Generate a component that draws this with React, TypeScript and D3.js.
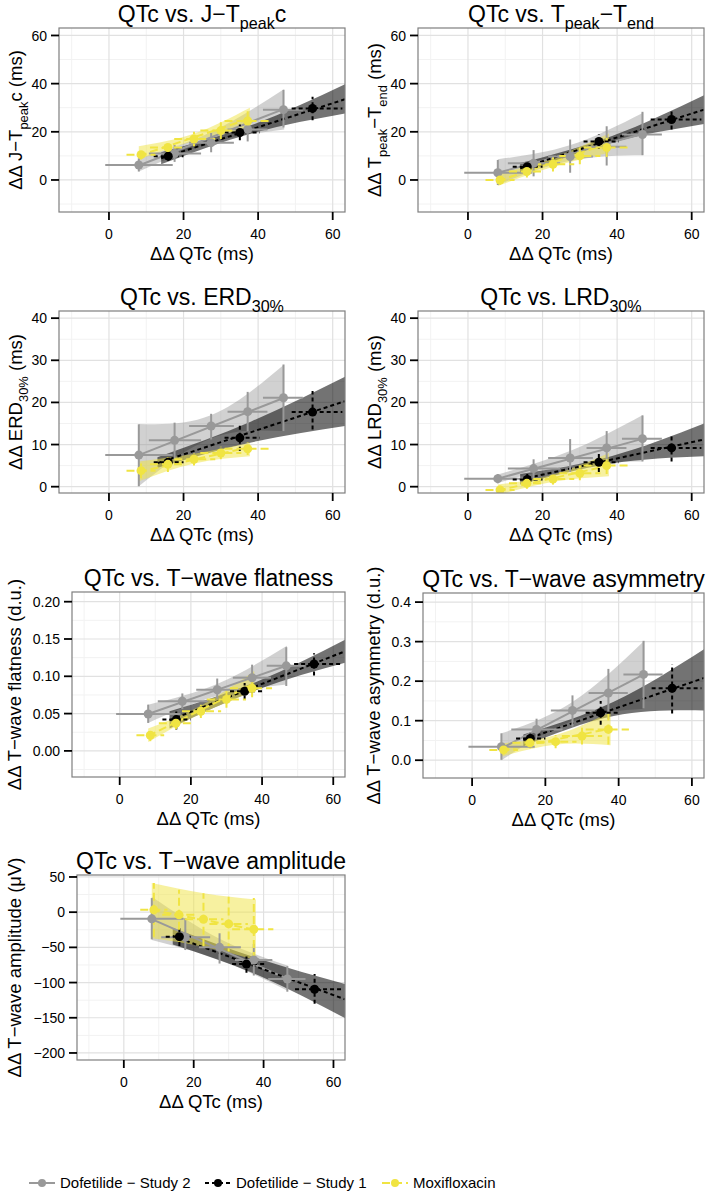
import React from 'react';
import * as d3 from 'd3';

const W = 710;
const H = 1198;
const FONT = '"Liberation Sans", Arial, Helvetica, sans-serif';

const seriesNames = ['Dofetilide − Study 2', 'Dofetilide − Study 1', 'Moxifloxacin'];

// ΔΔQTc per series: [mean, lower, upper]
const qtcS2 = [[8.0, -1.0, 17.1], [17.6, 10.7, 24.7], [27.4, 21.5, 33.5], [37.2, 31.8, 42.5], [46.8, 41.3, 52.0]];
const qtcS1 = [[15.9, 12.0, 20.0], [35.1, 31.0, 40.5], [54.6, 49.0, 62.6]];
const qtcMx = [[8.6, 4.7, 12.5], [15.8, 11.0, 20.5], [22.8, 17.5, 28.5], [30.0, 24.5, 35.5], [37.2, 31.0, 42.8]];

const xTicks = [0, 20, 40, 60];
const xMinor = [-10, 10, 30, 50];
const xDomain = [-13.4, 63.3];

// per panel: y values [mean, lower, upper]; fits [x0, x1, fit0, fit1, lo0, loMid, lo1, hi0, hiMid, hi1]
const jtpS2 = [[6.2, 3.5, 9.0], [11.0, 7.5, 14.5], [15.5, 11.5, 19.5], [21.0, 16.0, 26.0], [29.2, 21.8, 37.4]];
const jtpS1 = [[9.9, 8.0, 12.0], [19.7, 16.5, 23.0], [29.7, 24.8, 34.6]];
const jtpMx = [[10.5, 8.5, 12.5], [13.5, 11.0, 16.0], [17.0, 14.0, 20.0], [20.5, 17.0, 24.0], [24.5, 20.5, 28.5]];
const jtpFit = [
  [8, 47, 6.0, 29.5, 3.5, 15.5, 21.0, 9.0, 20.0, 37.8],
  [14, 63.3, 9.0, 33.5, 6.5, 19.5, 27.6, 11.5, 23.0, 39.7],
  [8, 37.8, 10.0, 25.5, 8.5, 16.3, 21.4, 14.0, 19.3, 30.0],
];

const tptS2 = [[3.0, -2.1, 8.3], [6.9, 1.5, 12.4], [9.7, 3.0, 16.8], [13.8, 6.0, 22.3], [18.9, 10.3, 28.3]];
const tptS1 = [[5.5, 3.5, 7.5], [16.0, 13.0, 19.0], [25.1, 21.0, 29.7]];
const tptMx = [[0.0, -2.0, 2.0], [3.5, 1.0, 6.0], [6.5, 3.5, 9.5], [10.0, 6.5, 13.5], [13.5, 9.5, 17.5]];
const tptFit = [
  [8, 47, 3.0, 19.2, -2.0, 8.0, 10.3, 8.6, 14.5, 27.9],
  [14, 63.3, 4.8, 29.2, 2.5, 15.5, 23.2, 7.0, 18.3, 35.2],
  [8, 37.8, -0.5, 15.3, -2.5, 5.5, 11.3, 2.5, 9.3, 19.3],
];

const erdS2 = [[7.5, 0.1, 14.8], [11.0, 6.5, 15.2], [14.4, 11.2, 17.3], [17.8, 13.2, 22.5], [21.1, 13.2, 29.0]];
const erdS1 = [[5.8, 4.8, 7.0], [11.6, 8.5, 14.8], [17.7, 13.6, 22.7]];
const erdMx = [[3.8, 2.0, 5.5], [5.3, 3.5, 7.0], [6.5, 5.0, 8.0], [8.0, 6.5, 9.5], [9.0, 7.5, 10.5]];
const erdFit = [
  [8, 47, 7.5, 21.1, 0.1, 11.5, 13.2, 14.9, 17.0, 29.0],
  [13, 63.3, 5.6, 20.3, 4.5, 10.5, 14.4, 7.0, 15.5, 26.1],
  [8, 37.8, 3.5, 9.4, 1.3, 5.5, 7.2, 6.0, 7.8, 10.4],
];

const lrdS2 = [[1.9, 0.8, 3.0], [4.3, 2.0, 6.5], [6.8, 3.5, 11.3], [9.2, 5.0, 13.2], [11.4, 6.0, 16.9]];
const lrdS1 = [[1.7, 0.5, 3.0], [5.8, 3.5, 8.0], [9.2, 6.0, 12.6]];
const lrdMx = [[-0.8, -1.5, 0.2], [0.8, -0.5, 2.0], [1.8, 0.5, 3.2], [3.2, 1.5, 5.0], [5.0, 3.0, 6.5]];
const lrdFit = [
  [8, 47, 1.9, 11.4, 0.9, 5.0, 6.0, 2.9, 8.5, 17.1],
  [14, 63.3, 1.7, 11.2, 0.5, 5.5, 7.2, 3.0, 7.3, 15.0],
  [8, 37.8, -0.9, 5.0, -2.0, 1.2, 2.5, 0.5, 2.9, 8.0],
];

const flatS2 = [[0.0495, 0.0375, 0.062], [0.0665, 0.056, 0.077], [0.082, 0.07, 0.097], [0.098, 0.082, 0.1156], [0.114, 0.087, 0.139]];
const flatS1 = [[0.042, 0.0286, 0.053], [0.08, 0.069, 0.091], [0.1165, 0.101, 0.131]];
const flatMx = [[0.021, 0.013, 0.029], [0.037, 0.029, 0.046], [0.053, 0.044, 0.062], [0.069, 0.058, 0.08], [0.084, 0.072, 0.097]];
const flatFit = [
  [8, 47, 0.0495, 0.1145, 0.0375, 0.074, 0.089, 0.062, 0.09, 0.141],
  [14, 63.3, 0.041, 0.1335, 0.03, 0.082, 0.118, 0.053, 0.093, 0.149],
  [8, 37.8, 0.02, 0.09, 0.012, 0.05, 0.08, 0.03, 0.061, 0.107],
];

const asymS2 = [[0.034, 0.001, 0.068], [0.078, 0.052, 0.105], [0.126, 0.085, 0.164], [0.17, 0.105, 0.231], [0.217, 0.131, 0.302]];
const asymS1 = [[0.055, 0.04, 0.07], [0.12, 0.09, 0.15], [0.182, 0.118, 0.243]];
const asymMx = [[0.026, 0.015, 0.037], [0.044, 0.03, 0.058], [0.047, 0.03, 0.064], [0.061, 0.04, 0.082], [0.078, 0.04, 0.118]];
const asymFit = [
  [8, 47, 0.03, 0.218, 0.0, 0.1, 0.13, 0.068, 0.148, 0.302],
  [14, 63.3, 0.051, 0.208, 0.035, 0.112, 0.126, 0.065, 0.148, 0.281],
  [8, 37.8, 0.025, 0.08, 0.009, 0.04, 0.038, 0.043, 0.064, 0.122],
];

const ampS2 = [[-9.5, -38.6, 20], [-35.7, -53.8, -8.6], [-50, -73, -30], [-68, -90, -45], [-95, -113, -76.7]];
const ampS1 = [[-34.8, -48, -23], [-73.8, -86, -63], [-109.5, -130, -88]];
const ampMx = [[3.3, -35, 41.4], [-3.8, -42, 32], [-10, -49, 27], [-16.7, -56, 22], [-24.3, -68, 20]];
const ampFit = [
  [8, 47, -10, -95, -39.5, -68, -112, 22, -38, -76],
  [14, 63.3, -33.8, -123.8, -46, -90, -150.5, -22, -66, -102],
  [8, 37.8, 3, -25, -37, -49, -68, 41.4, 27, 18],
];

type Seg = [string, boolean];

const titles: Seg[][] = [
  [['QTc vs. J−T', false], ['peak', true], ['c', false]],
  [['QTc vs. T', false], ['peak', true], ['−T', false], ['end', true]],
  [['QTc vs. ERD', false], ['30%', true]],
  [['QTc vs. LRD', false], ['30%', true]],
  [['QTc vs. T−wave flatness', false]],
  [['QTc vs. T−wave asymmetry', false]],
  [['QTc vs. T−wave amplitude', false]],
];

const yLabels: Seg[][] = [
  [['ΔΔ J−T', false], ['peak', true], ['c (ms)', false]],
  [['ΔΔ T', false], ['peak', true], ['−T', false], ['end', true], [' (ms)', false]],
  [['ΔΔ ERD', false], ['30%', true], [' (ms)', false]],
  [['ΔΔ LRD', false], ['30%', true], [' (ms)', false]],
  [['ΔΔ T−wave flatness (d.u.)', false]],
  [['ΔΔ T−wave asymmetry (d.u.)', false]],
  [['ΔΔ T−wave amplitude (μV)', false]],
];
const xLabel = 'ΔΔ QTc (ms)';

const yDomains = [[-13.3, 63.1], [-13.3, 63.1], [-1.5, 41.7], [-1.5, 41.7], [-0.035, 0.213], [-0.045, 0.423], [-210, 52.8]];
const yTicks = [
  [0, 20, 40, 60], [0, 20, 40, 60], [0, 10, 20, 30, 40], [0, 10, 20, 30, 40],
  [0, 0.05, 0.1, 0.15, 0.2], [0, 0.1, 0.2, 0.3, 0.4], [-200, -150, -100, -50, 0, 50],
];
const yMinor = [
  [-10, 10, 30, 50], [-10, 10, 30, 50], [5, 15, 25, 35], [5, 15, 25, 35],
  [-0.025, 0.025, 0.075, 0.125, 0.175], [0.05, 0.15, 0.25, 0.35], [-175, -125, -75, -25, 25],
];
const yFormats = ['d', 'd', 'd', 'd', '.2f', '.1f', 'd'];

// layout (pixels)
const panelRects = [
  [59, 28, 345, 212],
  [418, 28, 704, 212],
  [59, 311, 345, 493],
  [418, 311, 704, 493],
  [72, 592, 345, 777],
  [423, 593, 704, 778],
  [77, 875, 345, 1060],
];
const yTitleX = [22, 381, 22, 381, 21, 380, 21];

const panelData = [
  [jtpS2, jtpS1, jtpMx, jtpFit],
  [tptS2, tptS1, tptMx, tptFit],
  [erdS2, erdS1, erdMx, erdFit],
  [lrdS2, lrdS1, lrdMx, lrdFit],
  [flatS2, flatS1, flatMx, flatFit],
  [asymS2, asymS1, asymMx, asymFit],
  [ampS2, ampS1, ampMx, ampFit],
];

const seriesX = [qtcS2, qtcS1, qtcMx];
const seriesStyle = [
  { color: '#999999', dash: undefined as string | undefined, band: 'rgba(153,153,153,0.45)' },
  { color: '#000000', dash: '4,3', band: 'rgba(0,0,0,0.55)' },
  { color: '#F0E442', dash: '8,4', band: 'rgba(240,228,66,0.5)' },
];

const TITLE_FS = 23;
const AXIS_FS = 18.5;
const TICK_FS = 14;
const LEGEND_FS = 15;

function segs(list: Seg[], fs: number) {
  let sub = false;
  return list.map(([t, s], i) => {
    let dy = 0;
    if (s && !sub) dy = fs * 0.3;
    else if (!s && sub) dy = -fs * 0.3;
    sub = s;
    return (
      <tspan key={i} dy={dy} fontSize={s ? fs * 0.7 : fs} style={{ whiteSpace: 'pre' }}>
        {t}
      </tspan>
    );
  });
}

function Panel({ idx }: { idx: number }) {
  const [x0, y0, x1, y1] = panelRects[idx];
  const x = d3.scaleLinear().domain(xDomain).range([x0, x1]);
  const y = d3.scaleLinear().domain(yDomains[idx]).range([y1, y0]);
  const fmt = d3.format(yFormats[idx]);
  const data = panelData[idx];
  const fits = data[3] as number[][];
  const clipId = `clip${idx}`;

  const area = d3
    .area<[number, number, number]>()
    .x((d) => x(d[0]))
    .y0((d) => y(d[1]))
    .y1((d) => y(d[2]))
    .curve(d3.curveNatural);

  const cx = (x0 + x1) / 2;
  const cy = (y0 + y1) / 2;

  return (
    <g>
      <defs>
        <clipPath id={clipId}>
          <rect x={x0} y={y0} width={x1 - x0} height={y1 - y0} />
        </clipPath>
      </defs>
      <rect x={x0} y={y0} width={x1 - x0} height={y1 - y0} fill="#ffffff" />
      <g clipPath={`url(#${clipId})`}>
        {xMinor.map((v) => (
          <line key={'xm' + v} x1={x(v)} x2={x(v)} y1={y0} y2={y1} stroke="#f2f2f2" strokeWidth={1} />
        ))}
        {yMinor[idx].map((v) => (
          <line key={'ym' + v} x1={x0} x2={x1} y1={y(v)} y2={y(v)} stroke="#f2f2f2" strokeWidth={1} />
        ))}
        {xTicks.map((v) => (
          <line key={'xM' + v} x1={x(v)} x2={x(v)} y1={y0} y2={y1} stroke="#e1e1e1" strokeWidth={1.2} />
        ))}
        {yTicks[idx].map((v) => (
          <line key={'yM' + v} x1={x0} x2={x1} y1={y(v)} y2={y(v)} stroke="#e1e1e1" strokeWidth={1.2} />
        ))}
        {fits.map((f, s) => {
          const xm = (f[0] + f[1]) / 2;
          const pts: [number, number, number][] = [
            [f[0], f[4], f[7]],
            [xm, f[5], f[8]],
            [f[1], f[6], f[9]],
          ];
          return <path key={'band' + s} d={area(pts) || ''} fill={seriesStyle[s].band} stroke="none" />;
        })}
        {fits.map((f, s) => (
          <line
            key={'fit' + s}
            x1={x(f[0])}
            x2={x(f[1])}
            y1={y(f[2])}
            y2={y(f[3])}
            stroke={seriesStyle[s].color}
            strokeWidth={2}
            strokeDasharray={seriesStyle[s].dash}
          />
        ))}
        {[0, 1, 2].map((s) => {
          const ys = data[s] as number[][];
          return ys.map((v, i) => {
            const q = seriesX[s][i];
            return (
              <line
                key={`ve${s}-${i}`}
                x1={x(q[0])}
                x2={x(q[0])}
                y1={y(v[1])}
                y2={y(v[2])}
                stroke={seriesStyle[s].color}
                strokeWidth={2}
                strokeDasharray={seriesStyle[s].dash}
              />
            );
          });
        })}
        {[0, 1, 2].map((s) => {
          const ys = data[s] as number[][];
          return ys.map((v, i) => {
            const q = seriesX[s][i];
            return (
              <line
                key={`he${s}-${i}`}
                x1={x(q[1])}
                x2={x(q[2])}
                y1={y(v[0])}
                y2={y(v[0])}
                stroke={seriesStyle[s].color}
                strokeWidth={2}
                strokeDasharray={seriesStyle[s].dash}
              />
            );
          });
        })}
        {[0, 1, 2].map((s) => {
          const ys = data[s] as number[][];
          return ys.map((v, i) => {
            const q = seriesX[s][i];
            return <circle key={`pt${s}-${i}`} cx={x(q[0])} cy={y(v[0])} r={4.5} fill={seriesStyle[s].color} />;
          });
        })}
      </g>
      <rect x={x0} y={y0} width={x1 - x0} height={y1 - y0} fill="none" stroke="#7f7f7f" strokeWidth={1.2} />
      {xTicks.map((v) => (
        <g key={'xt' + v}>
          <line x1={x(v)} x2={x(v)} y1={y1} y2={y1 + 8} stroke="#000" strokeWidth={1.8} />
          <text x={x(v)} y={y1 + 27} textAnchor="middle" fontSize={TICK_FS} fontFamily={FONT} fill="#000">
            {d3.format('d')(v)}
          </text>
        </g>
      ))}
      {yTicks[idx].map((v) => (
        <g key={'yt' + v}>
          <line x1={x0 - 8} x2={x0} y1={y(v)} y2={y(v)} stroke="#000" strokeWidth={1.8} />
          <text x={x0 - 12} y={y(v)} dy="0.36em" textAnchor="end" fontSize={TICK_FS} fontFamily={FONT} fill="#000">
            {fmt(v)}
          </text>
        </g>
      ))}
      <text x={cx} y={y0 - 6} textAnchor="middle" fontSize={TITLE_FS} fontFamily={FONT} fill="#000">
        {segs(titles[idx], TITLE_FS)}
      </text>
      <text x={cx} y={y1 + 48} textAnchor="middle" fontSize={AXIS_FS} fontFamily={FONT} fill="#000">
        {xLabel}
      </text>
      <text
        transform={`translate(${yTitleX[idx]},${cy}) rotate(-90)`}
        textAnchor="middle"
        fontSize={AXIS_FS}
        fontFamily={FONT}
        fill="#000"
      >
        {segs(yLabels[idx], AXIS_FS)}
      </text>
    </g>
  );
}

const legendKeyX = [29, 205, 382];
const LEGEND_Y = 1183;

function Legend() {
  return (
    <g>
      {seriesNames.map((name, s) => {
        const kx = legendKeyX[s];
        const st = seriesStyle[s];
        return (
          <g key={name}>
            <line
              x1={kx}
              x2={kx + 26}
              y1={LEGEND_Y}
              y2={LEGEND_Y}
              stroke={st.color}
              strokeWidth={2}
              strokeDasharray={st.dash}
            />
            <circle cx={kx + 13} cy={LEGEND_Y} r={4} fill={st.color} />
            <text x={kx + 31} y={LEGEND_Y} dy="0.36em" fontSize={LEGEND_FS} fontFamily={FONT} fill="#000">
              {name}
            </text>
          </g>
        );
      })}
    </g>
  );
}

export default function App() {
  return (
    <svg
      width={W}
      height={H}
      viewBox={`0 0 ${W} ${H}`}
      style={{ position: 'absolute', left: 0, top: 0, background: '#ffffff' }}
    >
      <rect x={0} y={0} width={W} height={H} fill="#ffffff" />
      {panelRects.map((_, i) => (
        <Panel key={i} idx={i} />
      ))}
      <Legend />
    </svg>
  );
}
